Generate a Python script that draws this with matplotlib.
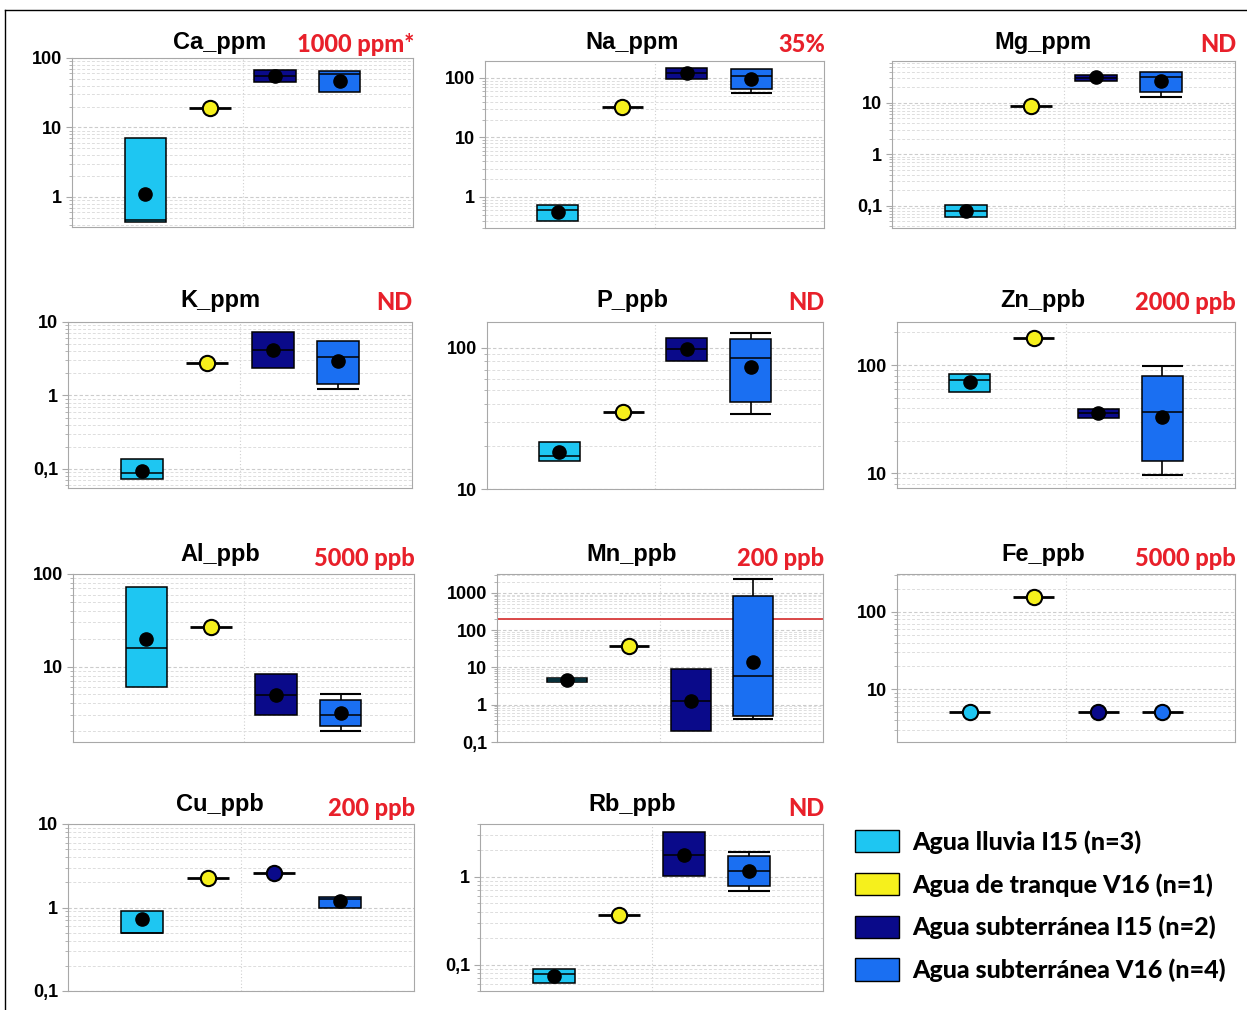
import matplotlib
matplotlib.use("Agg")
import matplotlib.pyplot as plt
from matplotlib.lines import Line2D
from matplotlib.patches import Patch
from matplotlib.ticker import LogLocator, FuncFormatter, NullFormatter

W, H = 1247, 1010

elements = ["Ca_ppm", "Na_ppm", "Mg_ppm", "K_ppm", "P_ppb", "Zn_ppb",
            "Al_ppb", "Mn_ppb", "Fe_ppb", "Cu_ppb", "Rb_ppb"]
limits = ["1000 ppm*", "35%", "ND", "ND", "ND", "2000 ppb",
          "5000 ppb", "200 ppb", "5000 ppb", "200 ppb", "ND"]
groups = ["Agua lluvia I15 (n=3)", "Agua de tranque V16 (n=1)",
          "Agua subterránea I15 (n=2)", "Agua subterránea V16 (n=4)"]

# per element: values for the 4 groups
q1 = [[0.43, 19, 45, 32], [0.40, 32, 95, 65], [0.06, 8.7, 27, 16.4],
      [0.073, 2.8, 2.4, 1.44], [15.7, 34.8, 81, 41], [56, 178, 32.6, 12.9],
      [6.06, 26.6, 3.0, 2.3], [4.1, 37, 0.2, 0.51], [5.05, 158, 5, 5],
      [0.5, 2.23, 2.56, 1.0], [0.061, 0.37, 1.03, 0.79]]
median = [[0.47, 19, 55, 58], [0.6, 32, 120, 110], [0.08, 8.7, 31, 32],
          [0.088, 2.8, 4.2, 3.3], [17.1, 34.8, 98, 84], [72, 178, 36, 36.5],
          [16, 26.6, 4.97, 3.0], [4.6, 37, 1.28, 5.9], [5.05, 158, 5, 5],
          [0.5, 2.23, 2.56, 1.28], [0.078, 0.37, 1.78, 1.17]]
q3 = [[7.0, 19, 68, 65], [0.73, 32, 145, 140], [0.105, 8.7, 35, 40],
      [0.137, 2.8, 7.3, 5.5], [21.4, 34.8, 117, 116], [82.6, 178, 39, 79],
      [72, 26.6, 8.4, 4.3], [5.25, 37, 9.1, 805], [5.05, 158, 5, 5],
      [0.9, 2.23, 2.56, 1.35], [0.09, 0.37, 3.26, 1.74]]
mean = [[1.1, 19, 55, 47], [0.56, 32, 120, 98], [0.08, 8.7, 32, 27],
        [0.095, 2.8, 4.2, 2.9], [18.2, 34.8, 98, 73], [70, 178, 36, 33],
        [19.6, 26.6, 4.97, 3.16], [4.6, 37, 1.28, 14], [5.05, 158, 5, 5],
        [0.72, 2.23, 2.56, 1.2], [0.074, 0.37, 1.78, 1.17]]
whisk_lo = [[None, None, None, None], [None, None, None, 55], [None, None, None, 13],
            [None, None, None, 1.23], [None, None, None, 34], [None, None, None, 9.6],
            [None, None, None, 2.0], [None, None, None, 0.42], [None, None, None, None],
            [None, None, None, None], [None, None, None, 0.69]]
whisk_hi = [[None, None, None, None], [None, None, None, None], [None, None, None, None],
            [None, None, None, None], [None, None, None, 127], [None, None, None, 98],
            [None, None, None, 5.1], [None, None, None, 2300], [None, None, None, None],
            [None, None, None, None], [None, None, None, 1.93]]
ref_lines = [None, None, None, None, None, None, None, 200, None, None, None]

ylims = [(0.37, 100), (0.30, 193), (0.037, 65), (0.055, 10), (10, 152), (7.3, 250),
         (1.53, 100), (0.1, 3200), (2.07, 310), (0.1, 10), (0.05, 4.0)]

colors = ["#1ec6f2", "#f6f01c", "#0a0a8a", "#1a6ff2"]

# axes boxes in pixels: x0, y0, x1, y1
rects = [(72, 58, 413, 227), (485, 61, 824, 228), (892, 61, 1235, 228),
         (68, 322, 412, 488), (487, 322, 823, 489), (897, 322, 1235, 488),
         (73, 574, 414, 742), (497, 574, 823, 742), (897, 574, 1235, 742),
         (68, 824, 414, 991), (480, 824, 823, 991)]
title_x = [220, 632, 1043]
title_y = [42, 300, 555, 805]

positions = [1, 2, 3, 4]
bw = 0.64


def fmt(v, pos):
    if v >= 1:
        return "%d" % round(v)
    return ("%g" % v).replace(".", ",")


fig = plt.figure(figsize=(W / 100, H / 100), dpi=100)
fig.add_artist(Line2D([5 / W, 5 / W], [0, 1 - 10 / H], color="black", lw=1))
fig.add_artist(Line2D([5 / W, 1], [1 - 10 / H, 1 - 10 / H], color="black", lw=1))

for i, name in enumerate(elements):
    x0, y0, x1, y1 = rects[i]
    ax = fig.add_axes([x0 / W, 1 - y1 / H, (x1 - x0) / W, (y1 - y0) / H])
    ax.set_yscale("log")
    ax.set_ylim(*ylims[i])
    ax.set_xlim(-0.13, 5.13)

    for j, p in enumerate(positions):
        lo, md, hi, mn = q1[i][j], median[i][j], q3[i][j], mean[i][j]
        if whisk_lo[i][j] is not None:
            ax.vlines(p, whisk_lo[i][j], lo, color="black", lw=1.2, zorder=2)
            ax.hlines(whisk_lo[i][j], p - bw / 2, p + bw / 2, color="black", lw=1.5, zorder=2)
        if whisk_hi[i][j] is not None:
            ax.vlines(p, hi, whisk_hi[i][j], color="black", lw=1.2, zorder=2)
            ax.hlines(whisk_hi[i][j], p - bw / 2, p + bw / 2, color="black", lw=1.5, zorder=2)
        if hi > lo:
            ax.bar(p, hi - lo, bottom=lo, width=bw, color=colors[j],
                   edgecolor="black", lw=1.1, zorder=3)
            ax.hlines(md, p - bw / 2, p + bw / 2, color="black", lw=1.1, zorder=4)
            ax.plot(p, mn, "o", color="black", ms=9.5, zorder=5)
        else:
            ax.hlines(md, p - bw / 2, p + bw / 2, color="black", lw=2, zorder=4)
            ax.plot(p, mn, "o", mfc=colors[j], mec="black", mew=1.5, ms=11, zorder=5)

    if ref_lines[i] is not None:
        ax.axhline(ref_lines[i], color="#d83a3a", lw=1.3, zorder=2)

    ax.yaxis.set_major_locator(LogLocator(base=10))
    ax.yaxis.set_minor_locator(LogLocator(base=10, subs=range(2, 10)))
    ax.yaxis.set_major_formatter(FuncFormatter(fmt))
    ax.yaxis.set_minor_formatter(NullFormatter())
    ax.grid(True, which="major", axis="y", color="#cccccc", ls=(0, (3, 2)), lw=0.8)
    ax.grid(True, which="minor", axis="y", color="#dddddd", ls=(0, (3, 2)), lw=0.7)
    ax.axvline(2.5, color="#d0d0d0", ls=(0, (1, 2)), lw=0.8, zorder=0)
    ax.set_axisbelow(True)
    ax.set_xticks([])
    for s in ax.spines.values():
        s.set_color("#a8a8a8")
    ax.tick_params(axis="y", which="major", length=4, color="#a8a8a8", labelsize=13, pad=3)
    ax.tick_params(axis="y", which="minor", length=2, color="#a8a8a8")
    for lab in ax.get_yticklabels():
        lab.set_fontweight("bold")
        lab.set_fontfamily("Liberation Sans")

    r, c = divmod(i, 3)
    fig.text(title_x[c] / W, 1 - title_y[r] / H, name, ha="center", va="center",
             fontsize=17, fontweight="bold", family="Liberation Sans")
    fig.text((x1 + 1) / W, 1 - (title_y[r] + 3) / H, limits[i], ha="right", va="center",
             fontsize=17, fontweight="black", family="Lato", color="#e8202a")

handles = [Patch(facecolor=c, edgecolor="black", lw=1) for c in colors]
fig.legend(handles, groups, loc="upper left", bbox_to_anchor=(855 / W, 1 - 830 / H),
           frameon=False, prop={"family": "Lato", "weight": "black", "size": 18},
           handlelength=1.75, handleheight=1.0, handletextpad=0.55,
           labelspacing=0.76, borderpad=0, borderaxespad=0)

fig.savefig("out.png", dpi=100)
